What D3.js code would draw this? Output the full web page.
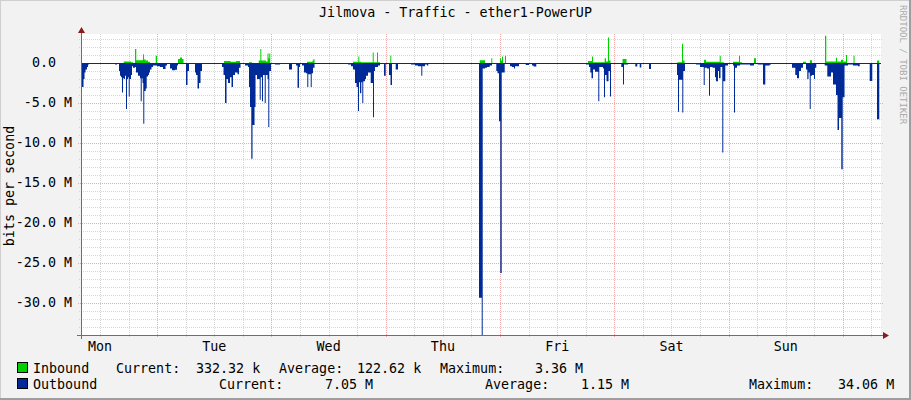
<!DOCTYPE html>
<html><head><meta charset="utf-8">
<script src="https://cdn.jsdelivr.net/npm/d3@7/dist/d3.min.js"></script>
<style>
html,body{margin:0;padding:0;background:#F2F2F2;}
svg{display:block;}
text{font-family:"DejaVu Sans Mono",monospace;font-size:13.33px;fill:#000;white-space:pre;}
</style></head><body>
<svg id="c" width="911" height="400"></svg>
<script>
// ---------------- data ----------------
const title = "Jilmova - Traffic - ether1-PowerUP";
const yAxisTitle = "bits per second";
const watermark = "RRDTOOL / TOBI OETIKER";
const dayLabels = ["Mon","Tue","Wed","Thu","Fri","Sat","Sun"];
const dayLabelHours = [12,36,60,84,108,132,156];   // hours since Monday 00:00
const yTickValues = [0,-5,-10,-15,-20,-25,-30];   // M bits/s
const yTickLabels = ["0.0","-5.0 M","-10.0 M","-15.0 M","-20.0 M","-25.0 M","-30.0 M"];
const timeDomain = [8,176];          // hours since Monday 00:00
const valueDomain = [-34.06, 3.63];  // M bits/s

// Outbound (plotted negative), time in hours since Monday 00:00, value in M bits/s
const outTimes = [8.00,8.21,8.53,8.74,8.95,9.26,9.47,9.68,15.14,15.56,
 15.98,16.19,16.40,16.61,16.82,17.03,17.24,17.45,17.66,17.87,18.02,18.23,18.50,18.71,18.92,19.34,19.55,19.97,20.39,20.54,20.75,20.92,21.08,21.29,21.59,21.80,22.07,22.28,22.49,22.81,23.12,
 23.96,24.59,25.22,25.75,26.06,26.69,27.11,27.74,28.16,28.37,30.05,30.37,30.68,31.94,32.15,32.47,32.78,33.10,33.41,
 37.61,37.93,38.24,38.56,38.87,39.29,39.61,39.92,40.34,40.87,41.18,41.50,42.44,43.07,43.28,43.49,43.76,44.02,44.44,44.65,44.96,45.53,45.74,46.01,46.22,46.58,46.79,47.17,47.33,47.54,47.90,
 48.74,49.79,51.68,52.31,53.15,53.47,53.78,53.99,54.41,54.83,55.25,55.52,55.73,56.24,56.45,56.72,57.04,
 63.44,64.07,64.70,65.12,65.54,65.86,66.17,66.38,66.59,66.86,67.07,67.28,67.64,67.85,68.27,68.84,69.32,69.53,69.74,70.37,70.79,71.63,71.99,72.68,73.00,73.31,74.09,74.57,
 77.30,78.14,78.77,79.46,79.67,80.24,80.66,80.93,
 91.58,92.15,92.36,92.84,93.26,93.83,94.31,95.21,95.47,95.78,96.05,96.35,96.98,98.09,98.51,98.93,99.14,99.98,101.39,102.08,102.71,103.03,103.61,
 114.05,114.68,114.95,115.21,115.52,115.94,116.63,116.84,117.62,117.83,118.04,118.36,118.78,119.09,119.30,121.19,121.46,121.82,122.03,122.87,123.29,124.40,124.82,125.33,125.66,126.02,127.28,127.70,
 133.16,133.37,133.58,134.27,134.48,134.84,137.15,137.99,138.77,138.98,139.46,139.88,140.09,140.62,141.14,141.35,141.77,141.98,142.30,142.67,142.88,143.30,143.87,
 144.92,145.13,145.34,145.76,146.39,148.49,149.33,150.17,151.22,151.70,152.63,152.90,
 157.31,158.00,158.36,158.78,159.20,159.62,160.25,160.52,160.78,161.03,161.24,161.51,161.93,162.14,162.41,
 164.18,164.72,165.50,165.92,166.55,166.87,167.18,167.66,167.96,168.34,169.07,170.12,171.17,171.53,173.63,174.17,175.16,175.64];
const outValues = [-3.7,-3.0,-2.0,-1.2,-0.8,-0.5,-0.2,0,-0.2,0,
 -1.0,-1.6,-1.8,-3.7,-1.9,-2.0,-1.6,-5.75,-2.0,-1.8,-4.2,-2.0,-1.5,-0.4,-0.6,-0.5,-1.2,-1.6,-1.9,-4.8,-1.9,-2.5,-7.6,-3.5,-3.2,-1.7,-1.5,-1.2,-0.8,-0.5,-0.3,
 -0.4,-0.5,-0.75,-0.3,0,-0.7,-0.9,-0.85,-0.3,0,-2.75,-1.0,0,-1.2,-1.5,-3.2,-2.5,-1.0,0,
 -0.5,-1.5,-5.0,-2.0,-2.5,-1.8,-3.0,-1.5,-1.2,-1.4,-0.6,0,-0.3,-0.5,-3.0,-5.5,-12.0,-7.75,-5.5,-1.5,-2.0,-4.6,-1.8,-4.8,-1.5,-5.0,-1.5,-2.0,-8.0,-1.0,0,
 -0.2,0,-0.8,0,-0.3,-3.1,-0.5,0,-0.3,-1.2,-1.3,-3.0,-1.4,-3.0,-1.3,-0.6,0,
 -0.1,-0.2,-0.4,-0.8,-2.5,-3.0,-6.0,-2.4,-3.8,-2.4,-5.0,-2.3,-2.0,-1.6,-1.2,-2.5,-6.8,-1.0,-0.5,-0.3,0,-1.6,0,-1.5,-2.75,0,-0.8,0,
 -0.2,-0.3,-0.4,-1.6,-0.4,-0.2,-0.3,0,
 -29.4,-34.06,-0.7,-0.6,-0.5,-0.3,0,-1.0,-1.3,-7.3,-26.3,-1.2,0,-0.4,-0.5,-0.7,-0.4,0,-0.25,0,-0.3,-0.45,0,
 -0.2,-0.5,-1.2,-1.9,-0.8,-1.1,-4.8,-0.5,-0.7,-4.3,-1.5,-2.3,-1.0,-4.2,-0.1,-0.1,-0.5,-2.7,-0.2,-0.1,0,-0.45,-0.1,-0.55,-0.1,0,-0.75,0,
 -1.5,-6.1,-2.1,-6.2,-1.0,0,-0.2,-0.5,-2.75,-0.6,-0.7,-4.1,-0.5,-0.6,-1.8,-2.3,-1.0,-1.9,-0.5,-11.2,-2.3,-0.3,0,
 -0.3,-6.2,-0.6,-0.3,-0.2,-0.3,-0.1,-0.2,-2.7,-0.3,-0.2,0,
 -0.6,-1.5,-1.9,-1.0,-0.6,0,-0.8,-2.0,-1.2,-5.75,-1.6,-1.5,-2.0,-0.6,0,
 -0.3,-1.7,-1.2,-2.7,-4.0,-8.4,-6.9,-13.3,-4.3,-0.3,-0.2,-0.3,-0.4,0,-2.25,0,-7.05,0];

// Inbound (positive)
const inTimes = [8.00,16.97,18.50,18.92,19.34,19.61,20.92,21.03,21.24,21.55,22.07,22.49,23.69,23.96,28.37,28.79,29.21,29.53,
 38.03,39.40,40.55,41.39,43.28,43.91,45.32,45.66,45.87,46.85,47.17,47.38,47.54,47.75,55.46,56.62,56.83,57.04,
 65.12,66.24,66.45,66.80,69.26,69.47,70.16,70.37,70.79,72.95,73.16,
 91.73,92.84,94.16,94.37,95.99,96.20,96.41,96.62,97.04,97.25,
 114.47,115.31,115.52,117.98,118.25,118.67,118.88,119.20,121.72,122.56,
 133.22,134.21,134.42,134.74,138.83,139.25,141.77,142.13,142.34,143.03,144.92,146.18,146.39,146.81,149.33,149.75,
 159.62,160.25,161.09,161.51,164.24,164.51,166.55,166.76,167.60,168.02,168.65,168.86,170.23,170.44,175.16,175.64];
const inValues = [0,0.2,0.1,0,1.75,0.35,0.4,1.1,0.45,0.3,0.15,0,0.9,0,0.5,0.7,0.5,0,
 0.25,0.15,0.25,0,0.1,0,0.3,1.75,0.3,0.2,1.2,0.6,1.2,0,0.15,0.3,0.5,0,
 0.15,0.8,0.15,0.1,1.3,0.1,1.3,0.1,0,0.9,0,
 0.35,0,0.6,0,0.6,0.3,0.8,0,0.9,0,
 0.25,0.8,0.1,0.6,0.2,3.2,0.3,0,0.5,0,
 0.1,2.4,0.3,0,0.4,0.15,0.15,0.9,0.1,0,0.15,0.9,0.1,0,0.6,0,
 0.15,0,0.35,0,3.4,0.2,0.65,0.2,0.4,0.2,1.0,0,0.9,0,0.3,0];

const seriesNames = ["Inbound","Outbound"];
const seriesColors = ["#00CF00","#002A97"];
const currentVals = ["332.32 k","7.05 M"];
const averageVals = ["122.62 k","1.15 M"];
const maximumVals = ["3.36 M","34.06 M"];

// ---------------- drawing ----------------
const W = 911, H = 400;
const L = 81, R = 881, T = 34, B = 335;
const svg = d3.select("#c");
const x = d3.scaleLinear().domain(timeDomain).range([L, R]);
const y = d3.scaleLinear().domain(valueDomain).range([B, T]);

// canvas + frame
svg.append("rect").attr("width",W).attr("height",H).attr("fill","#F2F2F2");
svg.append("path").attr("d",`M0,${H} V0 H${W}`).attr("fill","none").attr("stroke","#CFCFCF").attr("stroke-width",2);
svg.append("path").attr("d",`M0,${H-1} H${W-1} V0`).attr("fill","none").attr("stroke","#9E9E9E").attr("stroke-width",2);

svg.append("rect").attr("x",L).attr("y",T).attr("width",R-L).attr("height",B-T).attr("fill","#FFFFFF");

const grid = svg.append("g").attr("shape-rendering","crispEdges");
// horizontal grid
d3.range(Math.ceil(valueDomain[0]), Math.floor(valueDomain[1])+1).forEach(v=>{
  if (v===0) return;
  const major = v%5===0;
  grid.append("line").attr("x1", major?L-3:L-2).attr("x2",R+2).attr("y1",Math.round(y(v))+0.5).attr("y2",Math.round(y(v))+0.5)
    .attr("stroke", major?"#F0A8A8":"#D6D6D6").attr("stroke-dasharray","1,1");
});
// vertical grid (every 6 h, major at midnight)
d3.range(Math.ceil(timeDomain[0]/6)*6, timeDomain[1]+0.01, 6).forEach(h=>{
  const major = h%24===0;
  grid.append("line").attr("y1",T).attr("y2",B+3).attr("x1",Math.round(x(h))+0.5).attr("x2",Math.round(x(h))+0.5)
    .attr("stroke", major?"#F0A8A8":"#D6D6D6").attr("stroke-dasharray","1,1");
});

function series(ts, vs){
  const d = ts.map((t,i)=>({t, v: vs[i]}));
  d.push({t: timeDomain[1], v: 0});
  return d;
}
const area = d3.area().x(d=>x(d.t)).y0(y(0)).y1(d=>y(d.v)).curve(d3.curveStepAfter);
svg.append("path").datum(series(outTimes,outValues)).attr("d",area).attr("fill",seriesColors[1]);
svg.append("path").datum(series(inTimes,inValues)).attr("d",area).attr("fill",seriesColors[0]);

// zero line
svg.append("line").attr("x1",L).attr("x2",R).attr("y1",Math.round(y(0))+0.5).attr("y2",Math.round(y(0))+0.5)
  .attr("stroke","#1A2466").attr("shape-rendering","crispEdges");

// axes
const ax = svg.append("g").attr("shape-rendering","crispEdges");
ax.append("line").attr("x1",L+0.5).attr("x2",L+0.5).attr("y1",B+4).attr("y2",T-4).attr("stroke","#6E6E6E");
ax.append("line").attr("x1",L-4).attr("x2",R+3).attr("y1",B+0.5).attr("y2",B+0.5).attr("stroke","#6E6E6E");
svg.append("path").attr("d",`M${L-3},${T-1} L${L+0.5},${T-7} L${L+4},${T-1} Z`).attr("fill","#8B1A1A");
svg.append("path").attr("d",`M${R+2},${B-3} L${R+8},${B+0.5} L${R+2},${B+4} Z`).attr("fill","#8B1A1A");

// y tick labels
yTickValues.forEach((v,i)=>{
  const lab = yTickLabels[i].endsWith("M") ? yTickLabels[i] : yTickLabels[i] + "  ";
  svg.append("text").attr("x",72).attr("y",y(v)+4.5).attr("text-anchor","end").text(lab);
});
// x labels
dayLabels.forEach((d,i)=>{
  svg.append("text").attr("x",x(dayLabelHours[i])).attr("y",351).attr("text-anchor","middle").text(d);
});

// title
svg.append("text").attr("x",455.5).attr("y",17).attr("text-anchor","middle").text(title);
// y axis title
svg.append("text").attr("transform","translate(14,186) rotate(-90)").attr("text-anchor","middle").text(yAxisTitle);
// watermark
svg.append("text").attr("transform","translate(900,5) rotate(90)").attr("text-anchor","start")
  .style("font-size","9px").style("fill","#ABABAB").text(watermark);

// legend
const legendRows = [
  {yb:373, xs:[33,116,196,279,357,440,535]},
  {yb:389, xs:[33,219,325,485,581,749,838]}
];
seriesNames.forEach((n,i)=>{
  const r = legendRows[i];
  svg.append("rect").attr("x",17.5).attr("y",r.yb-10.5).attr("width",10).attr("height",10)
    .attr("fill",seriesColors[i]).attr("stroke","#000").attr("shape-rendering","crispEdges");
  const toks = [n,"Current:",currentVals[i],"Average:",averageVals[i],"Maximum:",maximumVals[i]];
  toks.forEach((t,j)=>svg.append("text").attr("x",r.xs[j]).attr("y",r.yb).text(t));
});
</script>
</body></html>
